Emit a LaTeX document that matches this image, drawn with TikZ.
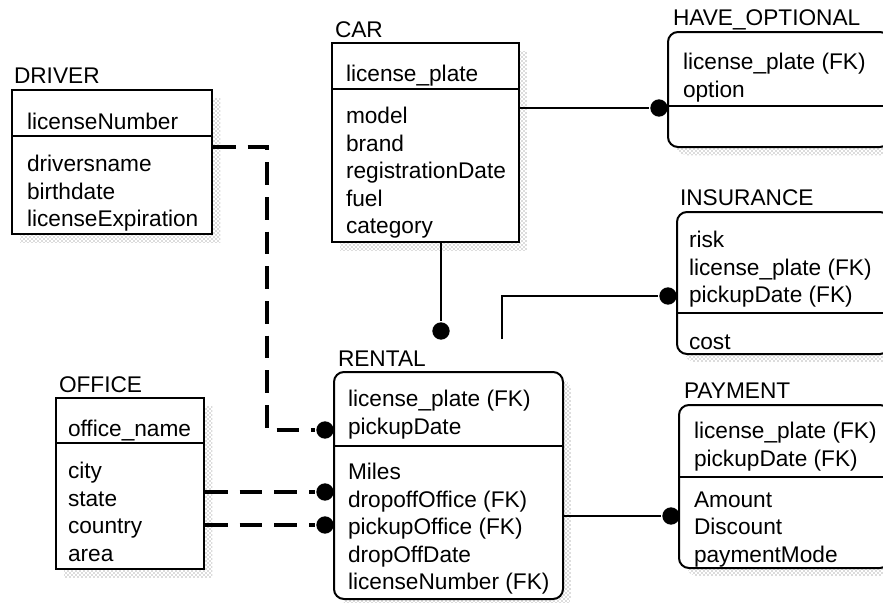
\documentclass[tikz,border=0pt]{standalone}
\usepackage{fontspec}
\setmainfont{Liberation Sans}
\usetikzlibrary{fit,shadows,patterns}

\begin{document}
\begin{tikzpicture}[x=.75pt,y=-.75pt,line width=1.5pt,font=\fontsize{17pt}{20.6pt}\selectfont,
  ent/.style={draw,fill=white,inner sep=0pt,
    drop shadow={shadow xshift=6pt,shadow yshift=-6pt,opacity=1,pattern=crosshatch dots,pattern color=black!60}},
  dep/.style={ent,rounded corners=7.5pt},
  title/.style={anchor=base west,inner sep=0pt},
  attr/.style={anchor=north west,align=left,inner sep=0pt,yshift=11.6pt,execute at begin node=\strut},
  rel/.style={line width=1.3pt},
  fk/.style={line width=2.3pt,dash pattern=on 17pt off 9pt},
  dot/.style={circle,fill,inner sep=0pt,minimum size=13pt}]
\clip (0,0) rectangle (883,603);
% DRIVER
\node[title] (driver-t) at (13,84) {DRIVER};
\node[ent,fit={(12,90) (212,234)}] (driver) {};
\draw (driver.west |- 0,136) -- (driver.east |- 0,136);
\node[attr] (driver-k) at (26,125) {licenseNumber};
\node[attr] (driver-a) at (26,170) {driversname\\birthdate\\licenseExpiration};
% CAR
\node[title] (car-t) at (334,37) {CAR};
\node[ent,fit={(332,43) (519,242)}] (car) {};
\draw (car.west |- 0,89) -- (car.east |- 0,89);
\node[attr] (car-k) at (345,77) {license\_plate};
\node[attr] (car-a) at (345,122) {model\\brand\\registrationDate\\fuel\\category};
% HAVE_OPTIONAL
\node[title] (have-t) at (672,26) {HAVE\_OPTIONAL};
\node[dep,fit={(668,32) (890,147)}] (have) {};
\draw (have.west |- 0,106) -- (have.east |- 0,106);
\node[attr] (have-k) at (682,68) {license\_plate (FK)\\option};
% INSURANCE
\node[title] (ins-t) at (679,205) {INSURANCE};
\node[dep,fit={(677,212) (890,354)}] (ins) {};
\draw (ins.west |- 0,313) -- (ins.east |- 0,313);
\node[attr] (ins-k) at (688,246) {risk\\license\_plate (FK)\\pickupDate (FK)};
\node[attr] (ins-a) at (688,345) {cost};
% RENTAL
\node[title] (rental-t) at (337,366) {RENTAL};
\node[dep,fit={(334,372) (563,599)}] (rental) {};
\draw (rental.west |- 0,446) -- (rental.east |- 0,446);
\node[attr] (rental-k) at (347,405) {license\_plate (FK)\\pickupDate};
\node[attr] (rental-a) at (347,478) {Miles\\dropoffOffice (FK)\\pickupOffice (FK)\\dropOffDate\\licenseNumber (FK)};
% OFFICE
\node[title] (office-t) at (58,392) {OFFICE};
\node[ent,fit={(56,398) (204,569)}] (office) {};
\draw (office.west |- 0,443) -- (office.east |- 0,443);
\node[attr] (office-k) at (67,432) {office\_name};
\node[attr] (office-a) at (67,477) {city\\state\\country\\area};
% PAYMENT
\node[title] (pay-t) at (683,398) {PAYMENT};
\node[dep,fit={(679,405) (890,568)}] (pay) {};
\draw (pay.west |- 0,477) -- (pay.east |- 0,477);
\node[attr] (pay-k) at (693,437) {license\_plate (FK)\\pickupDate (FK)};
\node[attr] (pay-a) at (693,506) {Amount\\Discount\\paymentMode};
% relationships
\node[dot] (d-have) at (659,108) {};
\node[dot] (d-rent) at (441,331) {};
\node[dot] (d-ins) at (668,296) {};
\node[dot] (d-pay) at (671,516) {};
\node[dot] (d-drv) at (325,430) {};
\node[dot] (d-drop) at (325,492) {};
\node[dot] (d-pick) at (325,525) {};
\coordinate (ins-end) at (502,339);
\draw[rel] (car.east |- d-have) -- (d-have);
\draw[rel] (car.south -| d-rent) -- (d-rent);
\draw[rel] (ins-end) |- (d-ins);
\draw[rel] (rental.east |- d-pay) -- (d-pay);
\draw[fk] (driver.east |- 0,147) -| (267,430) -- (d-drv);
\draw[fk] (office.east |- d-drop) -- (d-drop);
\draw[fk] (office.east |- d-pick) -- (d-pick);
\end{tikzpicture}
\end{document}
